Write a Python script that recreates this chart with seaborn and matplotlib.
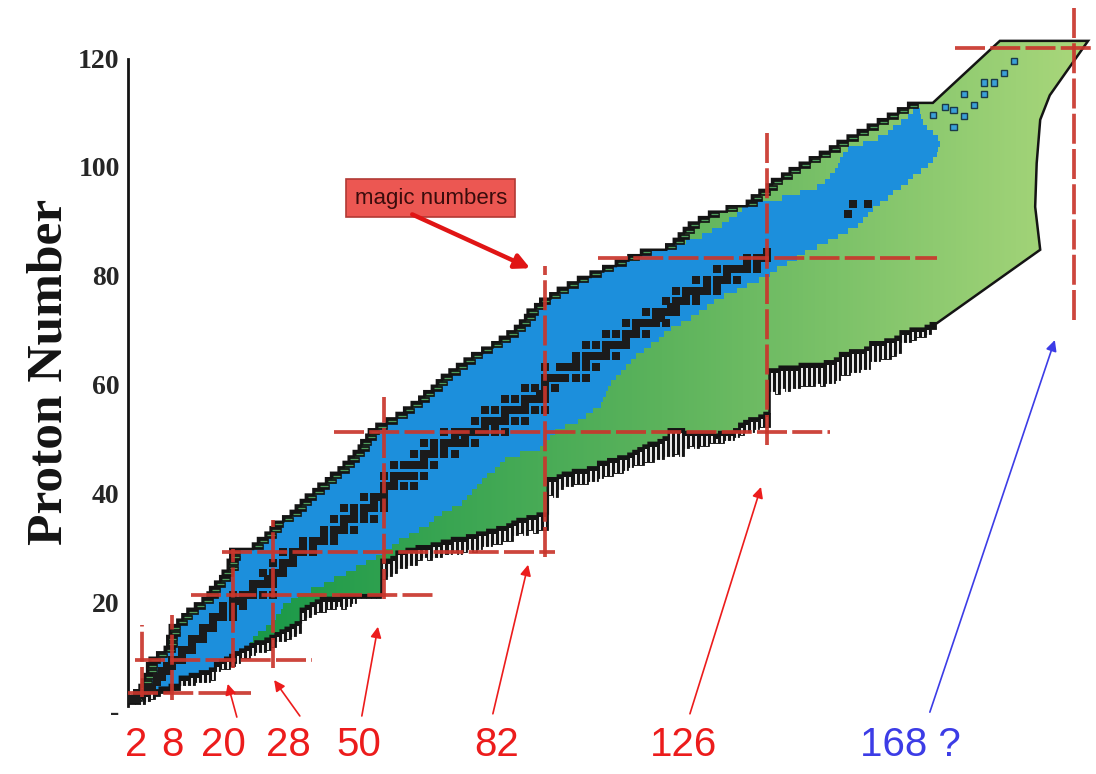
import numpy as np
import pandas as pd
import matplotlib
matplotlib.use("Agg")
import matplotlib.pyplot as plt
import matplotlib.transforms as mtransforms
from matplotlib.patches import Polygon, Rectangle
from matplotlib.colors import LinearSegmentedColormap
from matplotlib import font_manager
import seaborn as sns

# ---------------------------------------------------------------- data
# proton-rich limit of the nuclide map, one value per proton row Z = 1..110
z_rows = np.arange(1, 111)
n_proton_edge = [
    0.0, 1.0, 1.5, 2.0, 2.5, 3.0, 3.0, 3.5, 5.0, 6.5,
    7.0, 7.0, 7.5, 7.5, 9.0, 10.0, 11.0, 12.5, 14.0, 15.0,
    15.5, 16.5, 17.5, 18.0, 19.0, 19.0, 19.5, 19.5, 24.0, 25.0,
    26.5, 27.5, 28.0, 30.0, 31.5, 32.5, 33.5, 34.5, 36.0, 37.0,
    38.5, 39.5, 41.0, 42.0, 43.0, 44.0, 45.0, 45.5, 46.5, 47.0,
    48.5, 50.5, 52.5, 54.0, 55.5, 57.0, 58.0, 59.5, 60.5, 61.5,
    63.0, 64.5, 66.0, 67.5, 69.5, 71.5, 73.0, 74.5, 76.0, 77.0,
    78.0, 78.5, 80.0, 81.0, 83.0, 84.5, 86.5, 88.5, 91.0, 93.5,
    96.0, 98.5, 101.0, 106.0, 107.5, 108.5, 109.5, 110.5, 112.5, 114.5,
    118.0, 122.0, 123.0, 124.5, 126.0, 127.0, 129.0, 130.5, 132.5, 134.5,
    136.5, 138.5, 140.0, 142.0, 144.0, 146.0, 148.0, 150.0, 152.0, 154.0,
]

# neutron-rich side of the known nuclei (blue band), Z = 1..110
n_known_hi = [
    5, 7, 10, 12, 16, 17, 18, 19, 21, 22.5,
    23.5, 24, 25, 26.5, 27.5, 28.5, 29.5, 30, 31.5, 33,
    35.5, 38, 40, 42.5, 44.5, 46.5, 48.5, 50, 51.5, 53,
    55, 57, 59, 60, 61.5, 63.5, 65.5, 66.5, 67.5, 68.5,
    69.5, 70.5, 72, 73, 74, 77, 81, 82, 83, 84,
    86, 88.5, 90, 91.5, 93, 93.5, 94, 94.5, 95, 96,
    97, 98, 99, 100, 101.5, 103, 104.5, 105.5, 107, 109,
    111, 112.5, 114, 115.5, 117.5, 120, 122, 124.5, 126.5, 128,
    130, 132, 133.5, 136, 138, 140, 142, 144, 145, 146,
    147, 148.5, 150, 151, 152.5, 154, 155, 156.5, 158, 159,
    159.7, 160, 160.3, 160, 159, 157.7, 157, 156.5, 156.3, 156,
]

# proton-rich side of the known nuclei for the heavy rows Z = 83..110
z_heavy = np.arange(83, 111)
n_known_lo_heavy = [
    101.5, 106, 110, 113, 115, 117, 118.5, 120, 121, 124,
    129, 132.5, 136, 137.5, 138.5, 139.5, 140, 140.5, 141, 142,
    145, 148, 150, 151, 152.5, 154, 155, 156,
]

# neutron-rich limit, one column per neutron number N = 0..159
n_cols = np.arange(0, 160)
z_comb_roof = [
    1.0, 1.0, 1.5, 2.0, 2.5, 2.5, 3.0, 3.0, 3.5, 3.5,
    5.0, 5.0, 5.5, 5.5, 6.0, 6.0, 6.5, 7.5, 8.0, 8.5,
    9.0, 9.5, 10.0, 10.5, 11.0, 11.5, 11.5, 12.0, 12.5, 13.0,
    13.5, 14.0, 14.5, 15.0, 17.5, 18.0, 18.5, 19.0, 19.5, 19.5,
    19.5, 19.5, 20.0, 20.0, 20.0, 20.0, 20.0, 20.0, 20.0, 20.0,
    26.5, 26.5, 27.0, 28.0, 28.0, 28.5, 28.5, 29.0, 29.0, 29.0,
    29.5, 29.5, 30.0, 30.0, 30.5, 30.5, 30.5, 31.0, 31.0, 31.5,
    31.5, 32.0, 32.0, 32.5, 32.5, 33.0, 33.5, 34.0, 34.0, 34.5,
    34.5, 35.0, 35.0, 41.5, 41.5, 42.0, 42.5, 42.5, 43.0, 43.0,
    43.0, 43.5, 43.5, 44.5, 44.5, 45.0, 45.0, 45.5, 45.5, 46.0,
    46.5, 47.0, 47.5, 48.0, 48.0, 48.5, 49.0, 50.5, 50.5, 50.5,
    50.0, 50.0, 50.0, 50.0, 50.0, 50.0, 49.5, 50.0, 50.0, 50.0,
    50.5, 51.5, 52.0, 52.5, 52.5, 53.0, 53.5, 61.5, 61.5, 62.0,
    62.0, 62.0, 62.0, 62.5, 62.5, 62.5, 62.5, 62.5, 63.0, 63.0,
    63.5, 64.5, 64.5, 65.0, 65.0, 65.0, 65.5, 66.5, 66.5, 66.5,
    67.0, 67.0, 67.5, 68.5, 68.5, 69.0, 69.0, 69.0, 69.5, 70.0,
]
z_comb_floor = [
    0.0, 0.0, 0.0, 0.5, 1.0, 1.5, 2.0, 2.0, 2.5, 2.5,
    3.5, 3.5, 3.5, 4.0, 4.0, 4.0, 4.5, 6.0, 6.5, 6.5,
    7.0, 7.5, 8.5, 8.5, 9.0, 9.5, 9.5, 10.0, 10.5, 11.5,
    11.5, 12.0, 12.5, 13.0, 15.5, 16.0, 16.5, 17.0, 17.0, 17.5,
    17.5, 18.0, 17.5, 18.0, 18.5, 19.5, 19.5, 19.5, 19.5, 19.5,
    23.0, 23.5, 24.0, 25.0, 25.0, 25.5, 25.5, 26.5, 27.0, 26.5,
    27.0, 27.0, 27.5, 27.5, 28.0, 27.5, 28.0, 28.5, 28.0, 28.5,
    29.0, 29.0, 29.5, 29.5, 30.0, 30.0, 31.0, 31.5, 31.0, 32.0,
    31.5, 32.0, 32.0, 38.5, 38.0, 39.5, 40.0, 40.0, 40.5, 40.5,
    40.5, 41.0, 41.0, 41.5, 42.0, 42.0, 42.5, 42.5, 43.0, 43.5,
    44.0, 44.0, 44.5, 44.5, 45.0, 45.0, 45.5, 45.5, 46.0, 45.5,
    47.0, 47.5, 47.0, 47.5, 47.5, 48.0, 48.0, 48.0, 48.5, 48.5,
    49.0, 49.5, 50.0, 50.0, 50.5, 51.0, 51.0, 57.5, 57.0, 58.0,
    57.5, 58.0, 58.0, 58.5, 58.5, 58.5, 59.0, 58.5, 59.0, 59.0,
    59.5, 60.5, 60.5, 61.0, 61.0, 61.5, 61.5, 63.0, 63.0, 63.5,
    63.5, 64.0, 64.5, 66.5, 66.5, 67.0, 67.5, 67.5, 68.0, 69.0,
]

# outline of the predicted superheavy end (N, Z corners)
cap_n = [158.9, 170.2, 172.2, 189.7, 182.1, 180.2, 179.5, 179.2, 180.2, 159.7]
cap_z = [110.5, 120.2, 121.9, 121.9, 111.9, 107.4, 99.4, 91.4, 83.5, 70.0]

# stable (and very long-lived) nuclides: Z -> neutron numbers
stable = {
    1: [0, 1], 2: [1, 2], 3: [3, 4], 4: [5], 5: [5, 6], 6: [6, 7], 7: [7, 8],
    8: [8, 9, 10], 9: [10], 10: [10, 11, 12], 11: [12], 12: [12, 13, 14],
    13: [14], 14: [14, 15, 16], 15: [16], 16: [16, 17, 18, 20], 17: [18, 20],
    18: [18, 20, 22], 19: [20, 21, 22], 20: [20, 22, 23, 24, 26, 28], 21: [24],
    22: [24, 25, 26, 27, 28], 23: [27, 28], 24: [26, 28, 29, 30], 25: [30],
    26: [28, 30, 31, 32], 27: [32], 28: [30, 32, 33, 34, 36], 29: [34, 36],
    30: [34, 36, 37, 38, 40], 31: [38, 40], 32: [38, 40, 41, 42, 44], 33: [42],
    34: [40, 42, 43, 44, 46, 48], 35: [44, 46], 36: [42, 44, 46, 47, 48, 50],
    37: [48, 50], 38: [46, 48, 49, 50], 39: [50], 40: [50, 51, 52, 54, 56],
    41: [52], 42: [50, 52, 53, 54, 55, 56, 58], 44: [52, 54, 55, 56, 57, 58, 60],
    45: [58], 46: [56, 58, 59, 60, 62, 64], 47: [60, 62],
    48: [58, 60, 62, 63, 64, 65, 66, 68], 49: [64, 66],
    50: [62, 64, 65, 66, 67, 68, 69, 70, 72, 74], 51: [70, 72],
    52: [68, 70, 71, 72, 73, 74, 76, 78], 53: [74],
    54: [70, 72, 74, 75, 76, 77, 78, 80, 82], 55: [78],
    56: [74, 76, 78, 79, 80, 81, 82], 57: [81, 82], 58: [78, 80, 82, 84],
    59: [82], 60: [82, 83, 84, 85, 86, 88, 90], 62: [82, 85, 86, 87, 88, 90, 92],
    63: [88, 90], 64: [88, 90, 91, 92, 93, 94, 96], 65: [94],
    66: [90, 92, 94, 95, 96, 97, 98], 67: [98], 68: [94, 96, 98, 99, 100, 102],
    69: [100], 70: [98, 100, 101, 102, 103, 104, 106], 71: [104, 105],
    72: [102, 104, 105, 106, 107, 108], 73: [107, 108],
    74: [106, 108, 109, 110, 112], 75: [110, 112],
    76: [108, 110, 111, 112, 113, 114, 116], 77: [114, 116],
    78: [112, 114, 116, 117, 118, 120], 79: [118],
    80: [116, 118, 119, 120, 121, 122, 124], 81: [122, 124],
    82: [122, 124, 125, 126], 83: [126], 90: [142], 92: [143, 146],
}

# isolated superheavy nuclei observed beyond the main band
superheavy_n = [159, 161.3, 163, 163, 165, 165, 167, 169, 169, 171, 173, 175]
superheavy_z = [108.3, 109.7, 106.1, 109.2, 108.1, 112.1, 110.1, 112.1, 114.2, 114.2, 116, 118.2]

# magic numbers and the extent of their guide lines
magic_n_lines = [2, 8, 20, 28, 50, 82, 126, 187]
magic_n_from = [1.3, 0.7, 6.6, 6.6, 19.3, 27.0, 47.6, 70.6]
magic_n_to = [14.5, 16.4, 28.5, 33.8, 56.5, 80.5, 105.0, 128.0]
magic_z_lines = [2, 8, 20, 28, 50, 82, 120.5]
magic_z_from = [-0.8, 0.6, 11.7, 17.9, 40.0, 92.5, 163.3]
magic_z_to = [23.6, 35.7, 60.0, 84.0, 138.5, 159.7, 191.3]

bottom_labels = ["2", "8", "20", "28", "50", "82", "126", "168 ?"]
label_n = [0.8, 8.0, 18.2, 31.0, 45.0, 72.4, 109.5, 154.5]
arrow_tail = [None, None, (20.8, -2.4), (33.3, -2.2), (45.6, -2.2), (71.6, -1.8), (110.7, -1.8), (158.3, -1.5)]
arrow_head = [None, None, (19.0, 3.7), (28.2, 4.4), (48.8, 14.2), (78.6, 25.6), (124.8, 39.9), (183.1, 66.9)]

y_ticks = [0, 20, 40, 60, 80, 100, 120]
y_tick_labels = ["-", "20", "40", "60", "80", "100", "120"]

# ---------------------------------------------------------------- style
sns.set_style("white")
plt.rcParams["font.family"] = ["DejaVu Sans"]

installed = {f.name for f in font_manager.fontManager.ttflist}
label_font = "Liberation Sans Narrow" if "Liberation Sans Narrow" in installed else "Liberation Sans"
label_size = 33 if label_font == "Liberation Sans Narrow" else 29

RED_LINE = "#c9362c"
RED_TEXT = "#ec1c1c"
BLUE = "#1c8fdc"
SQUARE = "#1b1b1b"
INK = "#141414"
LEDGE = 2.0

green_cmap = LinearSegmentedColormap.from_list(
    "valley", [(0.0, "#169646"), (0.12, "#189848"), (0.55, "#5cb35c"), (1.0, "#acd87c")])

fig = plt.figure(figsize=(10.96, 7.74), dpi=100)
ax = fig.add_axes([128 / 1096, 54 / 774, 968 / 1096, 710 / 774])
XLIM = (-4 / 5.04, 964 / 5.04)
YLIM = (-16 / 5.44, 694 / 5.44)

# ---------------------------------------------------------------- envelope
verts = []
for z, n in zip(z_rows, n_proton_edge):
    verts += [(n, z - 0.5), (n, z + 0.5)]
verts += list(zip(cap_n, cap_z))
for n, r in zip(n_cols[::-1], z_comb_roof[::-1]):
    verts += [(n + 0.5, r), (n - 0.5, r)]

clip = Polygon(verts, closed=True, fc="none", ec="none")
ax.add_patch(clip)
grad = np.linspace(0, 1, 512)[None, :]
im = ax.imshow(grad, extent=(-1, 192, -3, 128), origin="lower", aspect="auto",
               cmap=green_cmap, zorder=1, interpolation="bilinear")
im.set_clip_path(clip)

# known nuclei
lo = np.array(n_proton_edge, dtype=float) + LEDGE
lo[z_heavy - 1] = n_known_lo_heavy
hi = np.array(n_known_hi, dtype=float)
width = np.clip(hi - lo, 0, None)
bars = ax.barh(z_rows, width, left=lo, height=1.04, color=BLUE, linewidth=0, zorder=2)
for b in bars:
    b.set_clip_path(clip)

# neutron-rich comb: dark teeth with a pale slit open towards the bottom
for n, r, f in zip(n_cols, z_comb_roof, z_comb_floor):
    if r - f > 0:
        ax.add_patch(Rectangle((n - 0.5, f), 1.0, r - f, fc=INK, ec=INK,
                               lw=0.6, zorder=3))
        if r - f > 1.2:
            ax.plot([n, n], [f - 0.1, r - 0.7], color="white", lw=1.3,
                    solid_capstyle="butt", zorder=3.1)

# proton-rich ledges: dark bars with a thin green core
for z, n in zip(z_rows, n_proton_edge):
    ax.add_patch(Rectangle((n, z - 0.45), LEDGE, 0.9, fc=INK, ec=INK,
                           lw=0.5, zorder=4))
    ax.plot([n + 0.35, n + LEDGE - 0.2], [z, z], color="#4e9d5c", lw=0.9,
            solid_capstyle="butt", zorder=4.1)

outline = Polygon(verts, closed=True, fc="none", ec=INK, lw=1.8, zorder=4,
                  joinstyle="miter")
ax.add_patch(outline)

# superheavy nuclei
for n, z in zip(superheavy_n, superheavy_z):
    ax.add_patch(Rectangle((n - 0.6, z - 0.6), 1.2, 1.2, fc="#3aa0d8", ec="#1a3a4a",
                           lw=1.0, zorder=5))

# stable nuclei
stable_df = pd.DataFrame([(n, z) for z, ns in stable.items() for n in ns], columns=["N", "Z"])
sns.scatterplot(data=stable_df, x="N", y="Z", marker="s", s=26, color=SQUARE,
                linewidth=0, legend=False, ax=ax, zorder=6)

# magic-number guide lines
for n, a, b in zip(magic_n_lines, magic_n_from, magic_n_to):
    ax.plot([n, n], [a, b], color=RED_LINE, lw=2.7, dashes=(8, 1.4),
            solid_capstyle="butt", dash_capstyle="butt", alpha=0.92, zorder=7, clip_on=False)
for z, a, b in zip(magic_z_lines, magic_z_from, magic_z_to):
    ax.plot([a, b], [z, z], color=RED_LINE, lw=2.7, dashes=(8, 1.4),
            solid_capstyle="butt", dash_capstyle="butt", alpha=0.92, zorder=7, clip_on=False)

# labels under the chart
for i, (txt, n) in enumerate(zip(bottom_labels, label_n)):
    col = "#3c3ce6" if "?" in txt else RED_TEXT
    ax.text(n, -7.6, txt, ha="center", va="center", fontsize=label_size,
            family=label_font, color=col, clip_on=False, zorder=8)
    if arrow_tail[i] is not None:
        ax.annotate("", xy=arrow_head[i], xytext=arrow_tail[i], annotation_clip=False,
                    arrowprops=dict(arrowstyle="-|>", color=col, lw=1.2,
                                    mutation_scale=16, shrinkA=0, shrinkB=0), zorder=8)

# "magic numbers" call-out
ax.text(59.3, 93.0, "magic numbers", ha="center", va="center", fontsize=16,
        family="Liberation Sans", color="#3a0c0c", zorder=9,
        bbox=dict(boxstyle="square,pad=0.38", fc="#ec5752", ec="#b23a35", lw=1.2))
ax.annotate("", xy=(79.0, 80.1), xytext=(55.6, 90.0), annotation_clip=False,
            arrowprops=dict(arrowstyle="-|>", color="#e01515", lw=3.2,
                            mutation_scale=22, shrinkA=0, shrinkB=0), zorder=9)

# ---------------------------------------------------------------- axes
ax.set_xlim(*XLIM)
ax.set_ylim(*YLIM)
ax.set_xticks([])
ax.set_xlabel("")
ax.set_ylabel("")
ax.set_yticks(y_ticks)
ax.set_yticklabels(y_tick_labels, fontfamily="Liberation Serif", fontweight="bold", fontsize=20)
ax.tick_params(axis="y", length=0, pad=6)
shift = mtransforms.ScaledTranslation(0, -5 / 72, fig.dpi_scale_trans)
for lab in ax.get_yticklabels():
    lab.set_transform(lab.get_transform() + shift)
for side in ("top", "right", "bottom"):
    ax.spines[side].set_visible(False)
ax.spines["left"].set_linewidth(2.0)
ax.spines["left"].set_color(INK)
ax.spines["left"].set_bounds(-0.3, 118.5)
ax.patch.set_alpha(0)

fig.text(50 / 1096, 1 - 372 / 774, "Proton Number", rotation=90, ha="center", va="center",
         fontsize=37, fontfamily="Liberation Serif", fontweight="bold", color=INK)

fig.savefig("out.png", dpi=100)
